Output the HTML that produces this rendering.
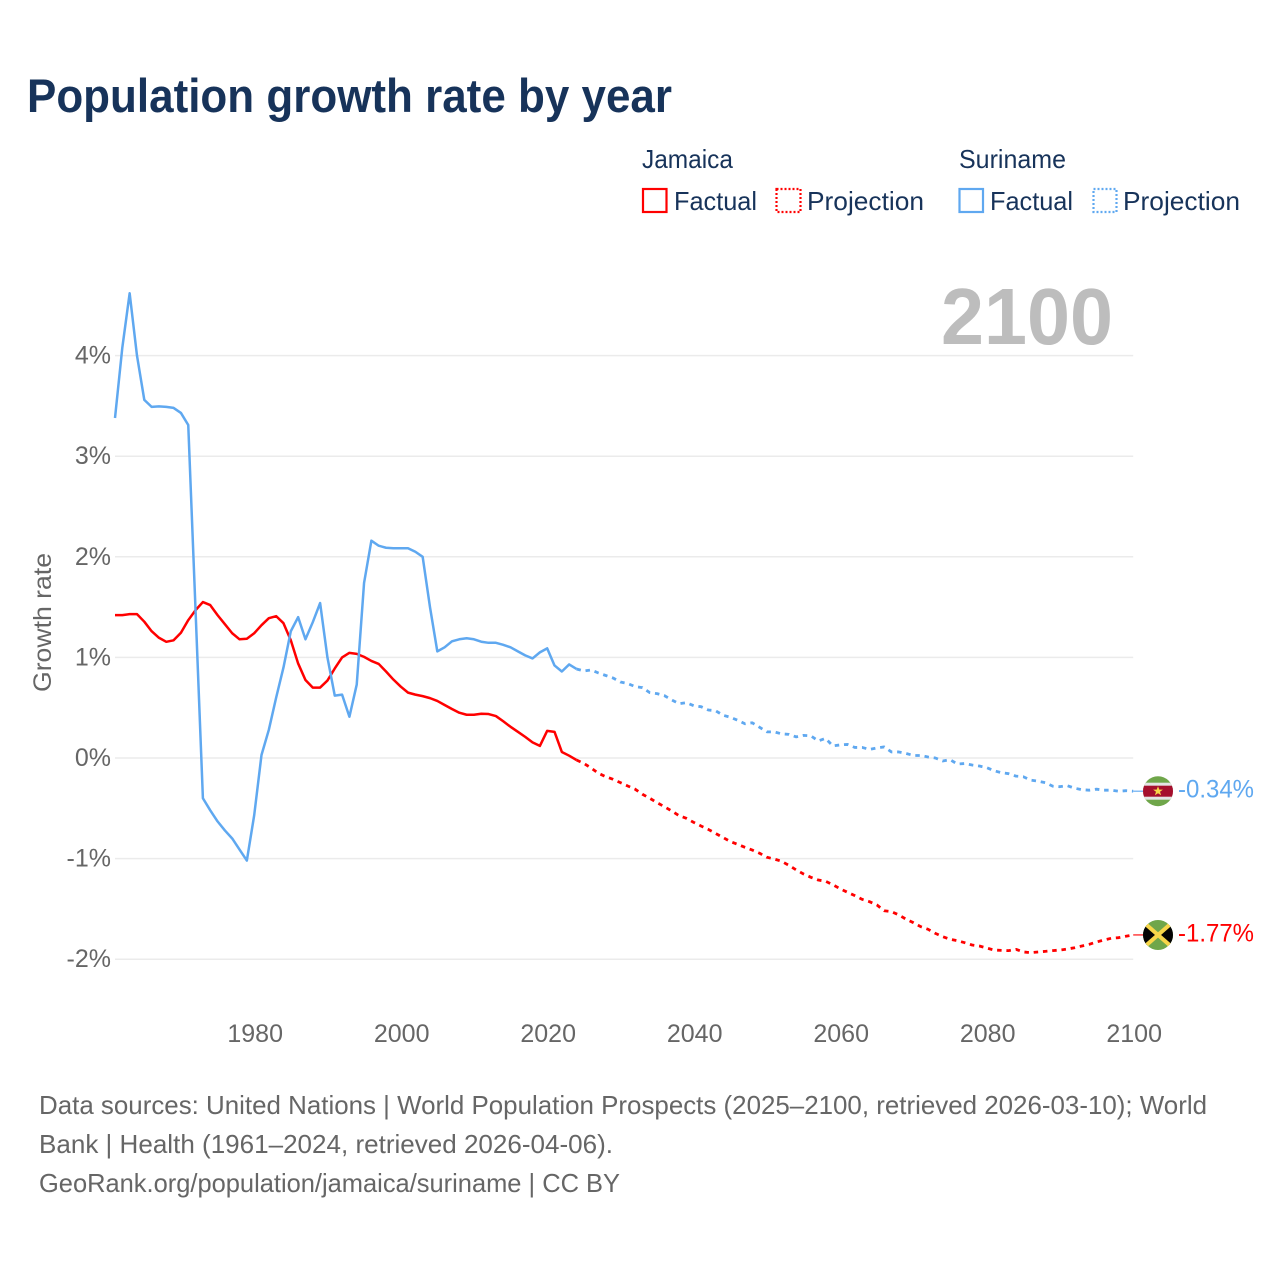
<!DOCTYPE html>
<html lang="en">
<head>
<meta charset="utf-8">
<title>Population growth rate by year</title>
<style>
  html, body { margin: 0; padding: 0; background: #ffffff; }
  svg { display: block; font-family: "Liberation Sans", sans-serif; }
</style>
</head>
<body>
<svg id="chart" xmlns="http://www.w3.org/2000/svg" width="1280" height="1280" viewBox="0 0 1280 1280">
  <defs>
    <clipPath id="flag-clip"><circle cx="0" cy="0" r="15"></circle></clipPath>
  </defs>
  <rect x="0" y="0" width="1280" height="1280" fill="#ffffff"></rect>
  <text x="27" y="112" font-size="47" font-weight="700" fill="#17335a" textLength="645" lengthAdjust="spacingAndGlyphs">Population growth rate by year</text>

  <g font-size="26" fill="#17335a">
    <text x="642" y="168" textLength="91" lengthAdjust="spacingAndGlyphs">Jamaica</text>
    <text x="959" y="168" textLength="107" lengthAdjust="spacingAndGlyphs">Suriname</text>
    <rect x="643" y="189" width="23.5" height="23" fill="none" stroke="#ff0000" stroke-width="2.2"></rect>
    <text x="674" y="210" textLength="83" lengthAdjust="spacingAndGlyphs">Factual</text>
    <rect x="776.5" y="189" width="24" height="23" fill="none" stroke="#ff0000" stroke-width="2.2" stroke-dasharray="2 2"></rect>
    <text x="807" y="210" textLength="117" lengthAdjust="spacingAndGlyphs">Projection</text>
    <rect x="959.5" y="189" width="23.5" height="23" fill="none" stroke="#5fa8f0" stroke-width="2.2"></rect>
    <text x="990" y="210" textLength="83" lengthAdjust="spacingAndGlyphs">Factual</text>
    <rect x="1093.5" y="189" width="23" height="23" fill="none" stroke="#5fa8f0" stroke-width="2.2" stroke-dasharray="2 2"></rect>
    <text x="1123" y="210" textLength="117" lengthAdjust="spacingAndGlyphs">Projection</text>
  </g>

  <g id="grid"></g>
  <text x="941" y="344" font-size="80" font-weight="700" fill="#bdbdbd" textLength="172" lengthAdjust="spacingAndGlyphs">2100</text>
  <text transform="translate(51,692) rotate(-90)" x="0" y="0" font-size="25" fill="#666666" textLength="139" lengthAdjust="spacingAndGlyphs">Growth rate</text>
  <g id="y-ticks"></g>
  <g id="x-ticks"></g>
  <g id="series"></g>

  <g id="flag-suriname">
    <g clip-path="url(#flag-clip)">
      <rect x="-16" y="-16" width="32" height="32" fill="#6fa64a"></rect>
      <rect x="-16" y="-8.5" width="32" height="17" fill="#e4e4e4"></rect>
      <rect x="-16" y="-5.5" width="32" height="11" fill="#a50f2d"></rect>
      <polygon points="0,-5 1.3,-1.6 4.9,-1.6 2,0.6 3.1,4.1 0,2 -3.1,4.1 -2,0.6 -4.9,-1.6 -1.3,-1.6" fill="#f7d64a"></polygon>
    </g>
  </g>
  <g id="flag-jamaica">
    <g clip-path="url(#flag-clip)">
      <rect x="-16" y="-16" width="32" height="32" fill="#6fa64a"></rect>
      <polygon points="-16,-14 0,0 -16,14" fill="#050505"></polygon>
      <polygon points="16,-14 0,0 16,14" fill="#050505"></polygon>
      <line x1="-16" y1="-14" x2="16" y2="14" stroke="#f7d64a" stroke-width="4"></line>
      <line x1="-16" y1="14" x2="16" y2="-14" stroke="#f7d64a" stroke-width="4"></line>
    </g>
  </g>
  <text id="value-suriname" x="1178" font-size="25" fill="#5fa8f0" textLength="76" lengthAdjust="spacingAndGlyphs"></text>
  <text id="value-jamaica" x="1178" font-size="25" fill="#ff0000" textLength="76" lengthAdjust="spacingAndGlyphs"></text>

  <g font-size="26" fill="#666666">
    <text x="39" y="1114" textLength="1168" lengthAdjust="spacingAndGlyphs">Data sources: United Nations | World Population Prospects (2025–2100, retrieved 2026-03-10); World</text>
    <text x="39" y="1153" textLength="574" lengthAdjust="spacingAndGlyphs">Bank | Health (1961–2024, retrieved 2026-04-06).</text>
    <text x="39" y="1192" textLength="581" lengthAdjust="spacingAndGlyphs">GeoRank.org/population/jamaica/suriname | CC BY</text>
  </g>
</svg>

<script>
const factualStartYear = 1961;
const projectionStartYear = 2024;
const xTickYears = [1980, 2000, 2020, 2040, 2060, 2080, 2100];
const yTickValues = [4, 3, 2, 1, 0, -1, -2];
const yTickLabels = ["4%", "3%", "2%", "1%", "0%", "-1%", "-2%"];
const jamaicaEndLabel = "-1.77%";
const surinameEndLabel = "-0.34%";

const jamaicaFactual = [
  1.42, 1.42, 1.43, 1.43, 1.355, 1.26, 1.195, 1.155, 1.17, 1.245,
  1.37, 1.47, 1.55, 1.52, 1.42, 1.33, 1.24, 1.18, 1.185, 1.24,
  1.32, 1.39, 1.41, 1.34, 1.17, 0.94, 0.775, 0.70, 0.70, 0.77,
  0.89, 1.0, 1.045, 1.035, 1.005, 0.965, 0.935, 0.86, 0.78, 0.71,
  0.65, 0.63, 0.615, 0.595, 0.567, 0.527, 0.487, 0.45, 0.43, 0.43,
  0.44, 0.437, 0.417, 0.365, 0.31, 0.26, 0.21, 0.155, 0.12, 0.27,
  0.26, 0.06, 0.023, -0.02
];
const jamaicaProjection = [
  -0.02, -0.053, -0.10, -0.152, -0.186, -0.212, -0.245, -0.278, -0.31, -0.36,
  -0.40, -0.444, -0.484, -0.527, -0.573, -0.60, -0.64, -0.676, -0.71, -0.75,
  -0.79, -0.83, -0.858, -0.888, -0.915, -0.947, -0.987, -1.004, -1.027, -1.067,
  -1.113, -1.153, -1.186, -1.213, -1.225, -1.26, -1.30, -1.335, -1.368, -1.405,
  -1.428, -1.46, -1.518, -1.527, -1.56, -1.603, -1.637, -1.677, -1.703, -1.743,
  -1.776, -1.802, -1.816, -1.836, -1.859, -1.869, -1.889, -1.909, -1.912, -1.915,
  -1.902, -1.928, -1.935, -1.928, -1.922, -1.915, -1.909, -1.899, -1.886, -1.869,
  -1.852, -1.829, -1.809, -1.792, -1.786, -1.772, -1.759
];
const surinameFactual = [
  3.38, 4.08, 4.62, 4.0, 3.56, 3.49, 3.495, 3.49, 3.48, 3.43,
  3.31, 1.46, -0.40, -0.52, -0.63, -0.72, -0.80, -0.91, -1.02, -0.57,
  0.03, 0.28, 0.60, 0.90, 1.26, 1.40, 1.18, 1.35, 1.54, 1.0,
  0.62, 0.63, 0.41, 0.73, 1.74, 2.16, 2.11, 2.09, 2.085, 2.085,
  2.085, 2.05, 2.0, 1.50, 1.06, 1.10, 1.16, 1.18, 1.19, 1.18,
  1.156, 1.145, 1.145, 1.125, 1.10, 1.06, 1.02, 0.99, 1.05, 1.09,
  0.92, 0.86, 0.93, 0.885
];
const surinameProjection = [
  0.885, 0.865, 0.875, 0.845, 0.82, 0.795, 0.755, 0.74, 0.71, 0.70,
  0.65, 0.64, 0.62, 0.577, 0.54, 0.55, 0.52, 0.51, 0.477, 0.47,
  0.425, 0.405, 0.375, 0.34, 0.35, 0.305, 0.26, 0.26, 0.24, 0.235,
  0.21, 0.225, 0.22, 0.17, 0.195, 0.12, 0.13, 0.135, 0.105, 0.105,
  0.085, 0.10, 0.11, 0.06, 0.06, 0.045, 0.025, 0.025, 0.01, 0,
  -0.03, -0.017, -0.06, -0.055, -0.07, -0.08, -0.096, -0.126, -0.146, -0.156,
  -0.18, -0.186, -0.22, -0.23, -0.245, -0.28, -0.285, -0.275, -0.30, -0.315,
  -0.32, -0.31, -0.32, -0.32, -0.33, -0.325, -0.33
];

const SVG_NS = "http://www.w3.org/2000/svg";
const RED = "#ff0000";
const BLUE = "#5fa8f0";
const FLAG_X = 1158;

function xScale(year) {
  return 115 + (year - 1961) * (1133.2 - 115) / (2100 - 1961);
}
function yScale(value) {
  return 758 - value * 100.6;
}
function seriesPoints(values, startYear) {
  return values.map(function (v, i) {
    return xScale(startYear + i).toFixed(2) + "," + yScale(v).toFixed(2);
  }).join(" ");
}

const gridGroup = document.getElementById("grid");
const yTickGroup = document.getElementById("y-ticks");
const xTickGroup = document.getElementById("x-ticks");
const seriesGroup = document.getElementById("series");

yTickValues.forEach(function (value, i) {
  const line = document.createElementNS(SVG_NS, "line");
  
  
  line.setAttribute("x1", xScale(1961));
  line.setAttribute("x2", xScale(2100));
  line.setAttribute("y1", yScale(value));
  line.setAttribute("y2", yScale(value));
  line.setAttribute("stroke", "#ebebeb");
  line.setAttribute("stroke-width", "1.5");
  gridGroup.appendChild(line);

  const label = document.createElementNS(SVG_NS, "text");
  
  
  label.setAttribute("x", "111");
  label.setAttribute("y", yScale(value) + 8);
  label.setAttribute("text-anchor", "end");
  label.setAttribute("font-size", "25");
  label.setAttribute("fill", "#666666");
  label.textContent = yTickLabels[i];
  yTickGroup.appendChild(label);
});

xTickYears.forEach(function (year) {
  const label = document.createElementNS(SVG_NS, "text");
  
  
  label.setAttribute("x", xScale(year) + 1);
  label.setAttribute("y", "1042");
  label.setAttribute("text-anchor", "middle");
  label.setAttribute("font-size", "25");
  label.setAttribute("fill", "#666666");
  label.textContent = String(year);
  xTickGroup.appendChild(label);
});

function addLine(name, values, startYear, color, dashed) {
  const line = document.createElementNS(SVG_NS, "polyline");
  
  
  line.setAttribute("points", seriesPoints(values, startYear));
  line.setAttribute("fill", "none");
  line.setAttribute("stroke", color);
  line.setAttribute("stroke-width", dashed ? "2.8" : "2.5");
  line.setAttribute("stroke-linejoin", "round");
  if (dashed) {
    line.setAttribute("stroke-dasharray", "4.5 4.8");
  }
  seriesGroup.appendChild(line);
}

function addConnector(name, value, color) {
  const line = document.createElementNS(SVG_NS, "line");
  
  
  line.setAttribute("x1", xScale(2100));
  line.setAttribute("x2", FLAG_X);
  line.setAttribute("y1", yScale(value));
  line.setAttribute("y2", yScale(value));
  line.setAttribute("stroke", color);
  line.setAttribute("stroke-width", "1.2");
  seriesGroup.appendChild(line);
}

addLine("jamaica-factual-line", jamaicaFactual, factualStartYear, RED, false);
addLine("jamaica-projection-line", jamaicaProjection, projectionStartYear, RED, true);
addLine("suriname-factual-line", surinameFactual, factualStartYear, BLUE, false);
addLine("suriname-projection-line", surinameProjection, projectionStartYear, BLUE, true);

const jamaicaLast = jamaicaProjection[jamaicaProjection.length - 1];
const surinameLast = surinameProjection[surinameProjection.length - 1];
addConnector("jamaica-flag-connector", jamaicaLast, RED);
addConnector("suriname-flag-connector", surinameLast, BLUE);

document.getElementById("flag-jamaica").setAttribute("transform", "translate(" + FLAG_X + "," + yScale(jamaicaLast) + ")");
document.getElementById("flag-suriname").setAttribute("transform", "translate(" + FLAG_X + "," + yScale(surinameLast) + ")");

const jamaicaValue = document.getElementById("value-jamaica");
jamaicaValue.setAttribute("y", yScale(jamaicaLast) + 6.5);
jamaicaValue.textContent = jamaicaEndLabel;
const surinameValue = document.getElementById("value-suriname");
surinameValue.setAttribute("y", yScale(surinameLast) + 6.5);
surinameValue.textContent = surinameEndLabel;
</script>
</body>
</html>
